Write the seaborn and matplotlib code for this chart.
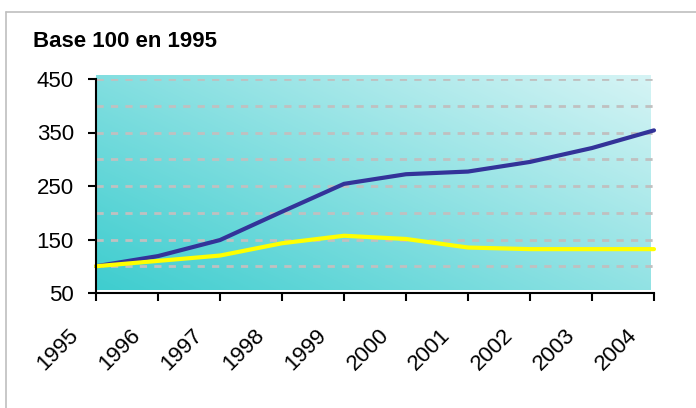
import matplotlib
matplotlib.use('Agg')
import matplotlib.pyplot as plt
import matplotlib.transforms as mtransforms
from matplotlib.lines import Line2D
import seaborn as sns
import numpy as np
import pandas as pd

# index values, base 100 in 1995
years = [1995, 1996, 1997, 1998, 1999, 2000, 2001, 2002, 2003, 2004]
series_blue = [100, 119, 149, 202, 254, 272, 277, 295, 321, 354]
series_yellow = [100, 110, 120, 143, 157, 151, 135, 132, 132, 132]
y_ticks = [50, 150, 250, 350, 450]
grid_levels = [100, 150, 200, 250, 300, 350, 400, 450]
title_text = 'Base 100 en 1995'

df = pd.DataFrame({'year': years, 'blue': series_blue, 'yellow': series_yellow})

sns.set_style('white')
plt.rcParams['font.family'] = ['Liberation Sans', 'DejaVu Sans']
plt.rcParams['text.color'] = 'black'
plt.rcParams['xtick.color'] = 'black'
plt.rcParams['ytick.color'] = 'black'

fig = plt.figure(figsize=(6.96, 4.08), dpi=100)
ax = fig.add_axes([96/696, 1-293/408, (654-96)/696, (293-79)/408])

# gradient background, teal bottom-left to pale top-right
n = 200
gx, gy = np.meshgrid(np.linspace(0, 1, n), np.linspace(0, 1, n))
t = np.clip((gx*0.55 + gy*0.45), 0, 1)
c0 = np.array([62, 205, 207]) / 255
c1 = np.array([214, 244, 245]) / 255
img = c0[None, None, :]*(1-t[..., None]) + c1[None, None, :]*t[..., None]
ax.imshow(img, origin='lower', extent=(1995, 2003.95, 55.6, 455.6), aspect='auto', zorder=0, clip_on=False)

for g in grid_levels:
    ax.axhline(g, color='#C0C0C0', lw=2, dashes=(2.6, 2.6), zorder=1)

sns.lineplot(data=df, x='year', y='blue', color='#333399', lw=3, ax=ax, zorder=3, clip_on=False)
sns.lineplot(data=df, x='year', y='yellow', color='#FFFF00', lw=3, ax=ax, zorder=3, clip_on=False)

ax.set_xlim(1995, 2004)
ax.set_ylim(50, 450)
ax.set_xticks(years)
ax.set_xticklabels([str(y) for y in years], rotation=45, ha='right', va='top')
ax.set_yticks(y_ticks)
ax.set_yticklabels([str(v) for v in y_ticks])
ax.set_xlabel('')
ax.set_ylabel('')

for s in ['top', 'right']:
    ax.spines[s].set_visible(False)
for s in ['left', 'bottom']:
    ax.spines[s].set_color('black')
    ax.spines[s].set_linewidth(1.5)
    ax.spines[s].set_zorder(4)

ax.tick_params(axis='both', direction='out', length=6, width=1.5, color='black', labelcolor='black', labelsize=16)
ax.tick_params(axis='x', pad=17, bottom=True)
ax.tick_params(axis='y', pad=10, left=True)

offset = mtransforms.ScaledTranslation(-13/100, 0, fig.dpi_scale_trans)
for lab in ax.get_xticklabels():
    lab.set_transform(lab.get_transform() + offset)

fig.text(33/696, 1-47/408, title_text, fontsize=16, fontweight='bold', color='black', ha='left', va='baseline')

# outer frame (only left and top edges visible)
fig.add_artist(Line2D([6/696, 6/696], [0, 1-12/408], color='#BFBFBF', lw=1.2, transform=fig.transFigure))
fig.add_artist(Line2D([6/696, 1], [1-12/408, 1-12/408], color='#BFBFBF', lw=1.2, transform=fig.transFigure))

fig.savefig('out.png', dpi=100)
